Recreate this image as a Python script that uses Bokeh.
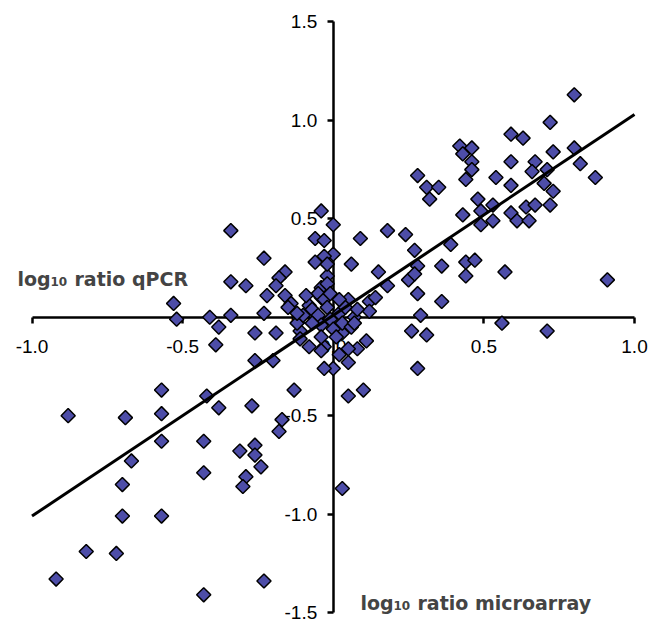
from bokeh.plotting import figure
from bokeh.models import Range1d, LinearAxis, FixedTicker, NumeralTickFormatter, Label, ColumnDataSource
from bokeh.embed import file_html
from bokeh.resources import INLINE

# log10 ratio microarray (x) vs log10 ratio qPCR (y)
microarray = [
    0.80, 0.72, 0.59, 0.63, 0.42, 0.46, 0.43, 0.73, 0.80, 0.46,
    0.59, 0.67, 0.82, 0.46, 0.66, 0.71, 0.28, 0.54, 0.87, 0.44,
    0.31, 0.35, 0.59, 0.70, 0.73, 0.32, 0.48, 0.53, 0.49, 0.43,
    0.59, 0.64, 0.67, 0.72, 0.53, 0.49, 0.61, 0.65, -0.04, 0.00,
    -0.06, -0.03, 0.09, 0.18, 0.24, 0.39, 0.27, 0.00, -0.06, -0.03,
    0.06, 0.28, 0.36, 0.44, 0.47, 0.44, 0.57, 0.91, 0.15, -0.02,
    0.18, 0.25, 0.27, 0.28, 0.36, 0.05, 0.12, 0.14, -0.04, -0.04,
    0.29, 0.07, 0.12, 0.56, 0.71, 0.26, 0.31, 0.28, 0.11, 0.08,
    0.05, 0.03, 0.02, 0.05, 0.00, -0.03, 0.05, 0.10, 0.03, -0.03,
    -0.39, -0.26, -0.19, -0.11, -0.08, -0.04, -0.26, -0.20, -0.13, -0.42,
    -0.38, -0.27, -0.17, -0.18, -0.43, -0.31, -0.26, -0.26, -0.24, -0.43,
    -0.29, -0.30, -0.23, -0.43, -0.57, -0.88, -0.69, -0.57, -0.57, -0.67,
    -0.70, -0.70, -0.57, -0.82, -0.72, -0.92, -0.34, -0.23, -0.34, -0.29,
    -0.16, -0.18, -0.19, -0.22, -0.16, -0.14, -0.08, -0.05, -0.03, -0.34,
    -0.41, -0.38, -0.23, -0.53, -0.52, -0.12, -0.15, -0.07, -0.05, -0.02,
    -0.01, 0.02, 0.03, 0.04, -0.10, -0.12, -0.04, 0.00, 0.06, 0.08,
    -0.07, -0.02, -0.01, -0.09, 0.02, 0.01, -0.04, -0.11, 0.07, -0.02,
]
qpcr = [
    1.13, 0.99, 0.93, 0.91, 0.87, 0.86, 0.83, 0.84, 0.86, 0.79,
    0.79, 0.79, 0.78, 0.75, 0.74, 0.75, 0.72, 0.71, 0.71, 0.70,
    0.66, 0.66, 0.67, 0.68, 0.64, 0.60, 0.60, 0.57, 0.54, 0.52,
    0.53, 0.56, 0.57, 0.57, 0.49, 0.47, 0.49, 0.49, 0.54, 0.47,
    0.40, 0.39, 0.40, 0.44, 0.42, 0.37, 0.34, 0.32, 0.28, 0.31,
    0.27, 0.26, 0.26, 0.28, 0.29, 0.21, 0.23, 0.19, 0.23, 0.21,
    0.16, 0.19, 0.22, 0.12, 0.08, 0.09, 0.08, 0.10, 0.15, 0.10,
    0.01, 0.00, 0.03, -0.03, -0.07, -0.07, -0.09, -0.26, -0.12, -0.16,
    -0.16, -0.08, -0.19, -0.23, -0.26, -0.26, -0.40, -0.37, -0.87, -0.15,
    -0.14, -0.08, -0.08, -0.07, -0.15, -0.17, -0.22, -0.22, -0.37, -0.40,
    -0.46, -0.45, -0.52, -0.58, -0.63, -0.68, -0.65, -0.70, -0.76, -0.79,
    -0.81, -0.86, -1.34, -1.41, -0.37, -0.50, -0.51, -0.49, -0.63, -0.73,
    -0.85, -1.01, -1.01, -1.19, -1.20, -1.33, 0.44, 0.30, 0.18, 0.16,
    0.23, 0.20, 0.16, 0.11, 0.11, 0.07, 0.06, 0.12, 0.09, 0.01,
    0.00, -0.05, 0.02, 0.07, -0.01, -0.03, 0.05, 0.04, 0.01, 0.05,
    -0.01, 0.02, -0.03, 0.05, 0.01, 0.02, -0.04, -0.06, -0.05, 0.04,
    -0.03, 0.17, 0.12, 0.11, 0.09, -0.10, -0.10, -0.11, -0.03, 0.27,
]

trend_x = [-1.0, 1.0]
trend_y = [-1.01, 1.03]

x_ticks = [-1.0, -0.5, 0.0, 0.5, 1.0]
y_ticks = [-1.5, -1.0, -0.5, 0.0, 0.5, 1.0, 1.5]

x_title = ["log", "10", "ratio microarray"]
y_title = ["log", "10", "ratio qPCR"]

p = figure(width=651, height=623,
           x_range=Range1d(-1.1046, 1.0564), y_range=Range1d(-1.5559, 1.6092),
           x_axis_type=None, y_axis_type=None,
           toolbar_location=None, output_backend="svg",
           min_border_left=0, min_border_right=0,
           min_border_top=0, min_border_bottom=0)
p.outline_line_color = None
p.background_fill_color = "white"
p.border_fill_color = "white"

def style_axis(ax):
    ax.axis_line_width = 2.5
    ax.axis_line_color = "black"
    ax.major_tick_line_width = 2.5
    ax.major_tick_line_color = "black"
    ax.major_tick_out = 6
    ax.major_tick_in = 0
    ax.minor_tick_out = 0
    ax.minor_tick_in = 0
    ax.major_label_text_font = "Liberation Sans"
    ax.major_label_text_font_size = "19px"
    ax.major_label_text_color = "black"
    ax.formatter = NumeralTickFormatter(format="0.0")
    ax.level = "underlay"

xaxis = LinearAxis(fixed_location=0, ticker=FixedTicker(ticks=x_ticks), bounds=(-1.0, 1.0))
style_axis(xaxis)
xaxis.major_label_standoff = 17
p.add_layout(xaxis, "below")

yaxis = LinearAxis(fixed_location=0, ticker=FixedTicker(ticks=y_ticks), bounds=(-1.5, 1.5))
style_axis(yaxis)
yaxis.major_label_standoff = 10
p.add_layout(yaxis, "left")

src = ColumnDataSource(data=dict(x=microarray, y=qpcr))
p.scatter("x", "y", source=src, marker="square", size=10, angle=0.7853981634,
          fill_color="#4D4DA8", line_color="black", line_width=1.5)

p.line(trend_x, trend_y, line_color="black", line_width=3)

def title(parts, x, y):
    font = "DejaVu Sans"
    p.add_layout(Label(x=x, y=y, text=parts[0], text_font=font, text_font_size="19px",
                       text_font_style="bold", text_baseline="alphabetic"))
    p.add_layout(Label(x=x, y=y, x_offset=33, y_offset=-2.5, text=parts[1], text_font=font,
                       text_font_size="12px", text_font_style="bold", text_baseline="alphabetic"))
    p.add_layout(Label(x=x, y=y, x_offset=57, text=parts[2], text_font=font, text_font_size="19px",
                       text_font_style="bold", text_baseline="alphabetic"))

title(y_title, -1.0482, 0.1968)
title(x_title, 0.0904, -1.4493)

open("out.html", "w").write(file_html(p, INLINE))
